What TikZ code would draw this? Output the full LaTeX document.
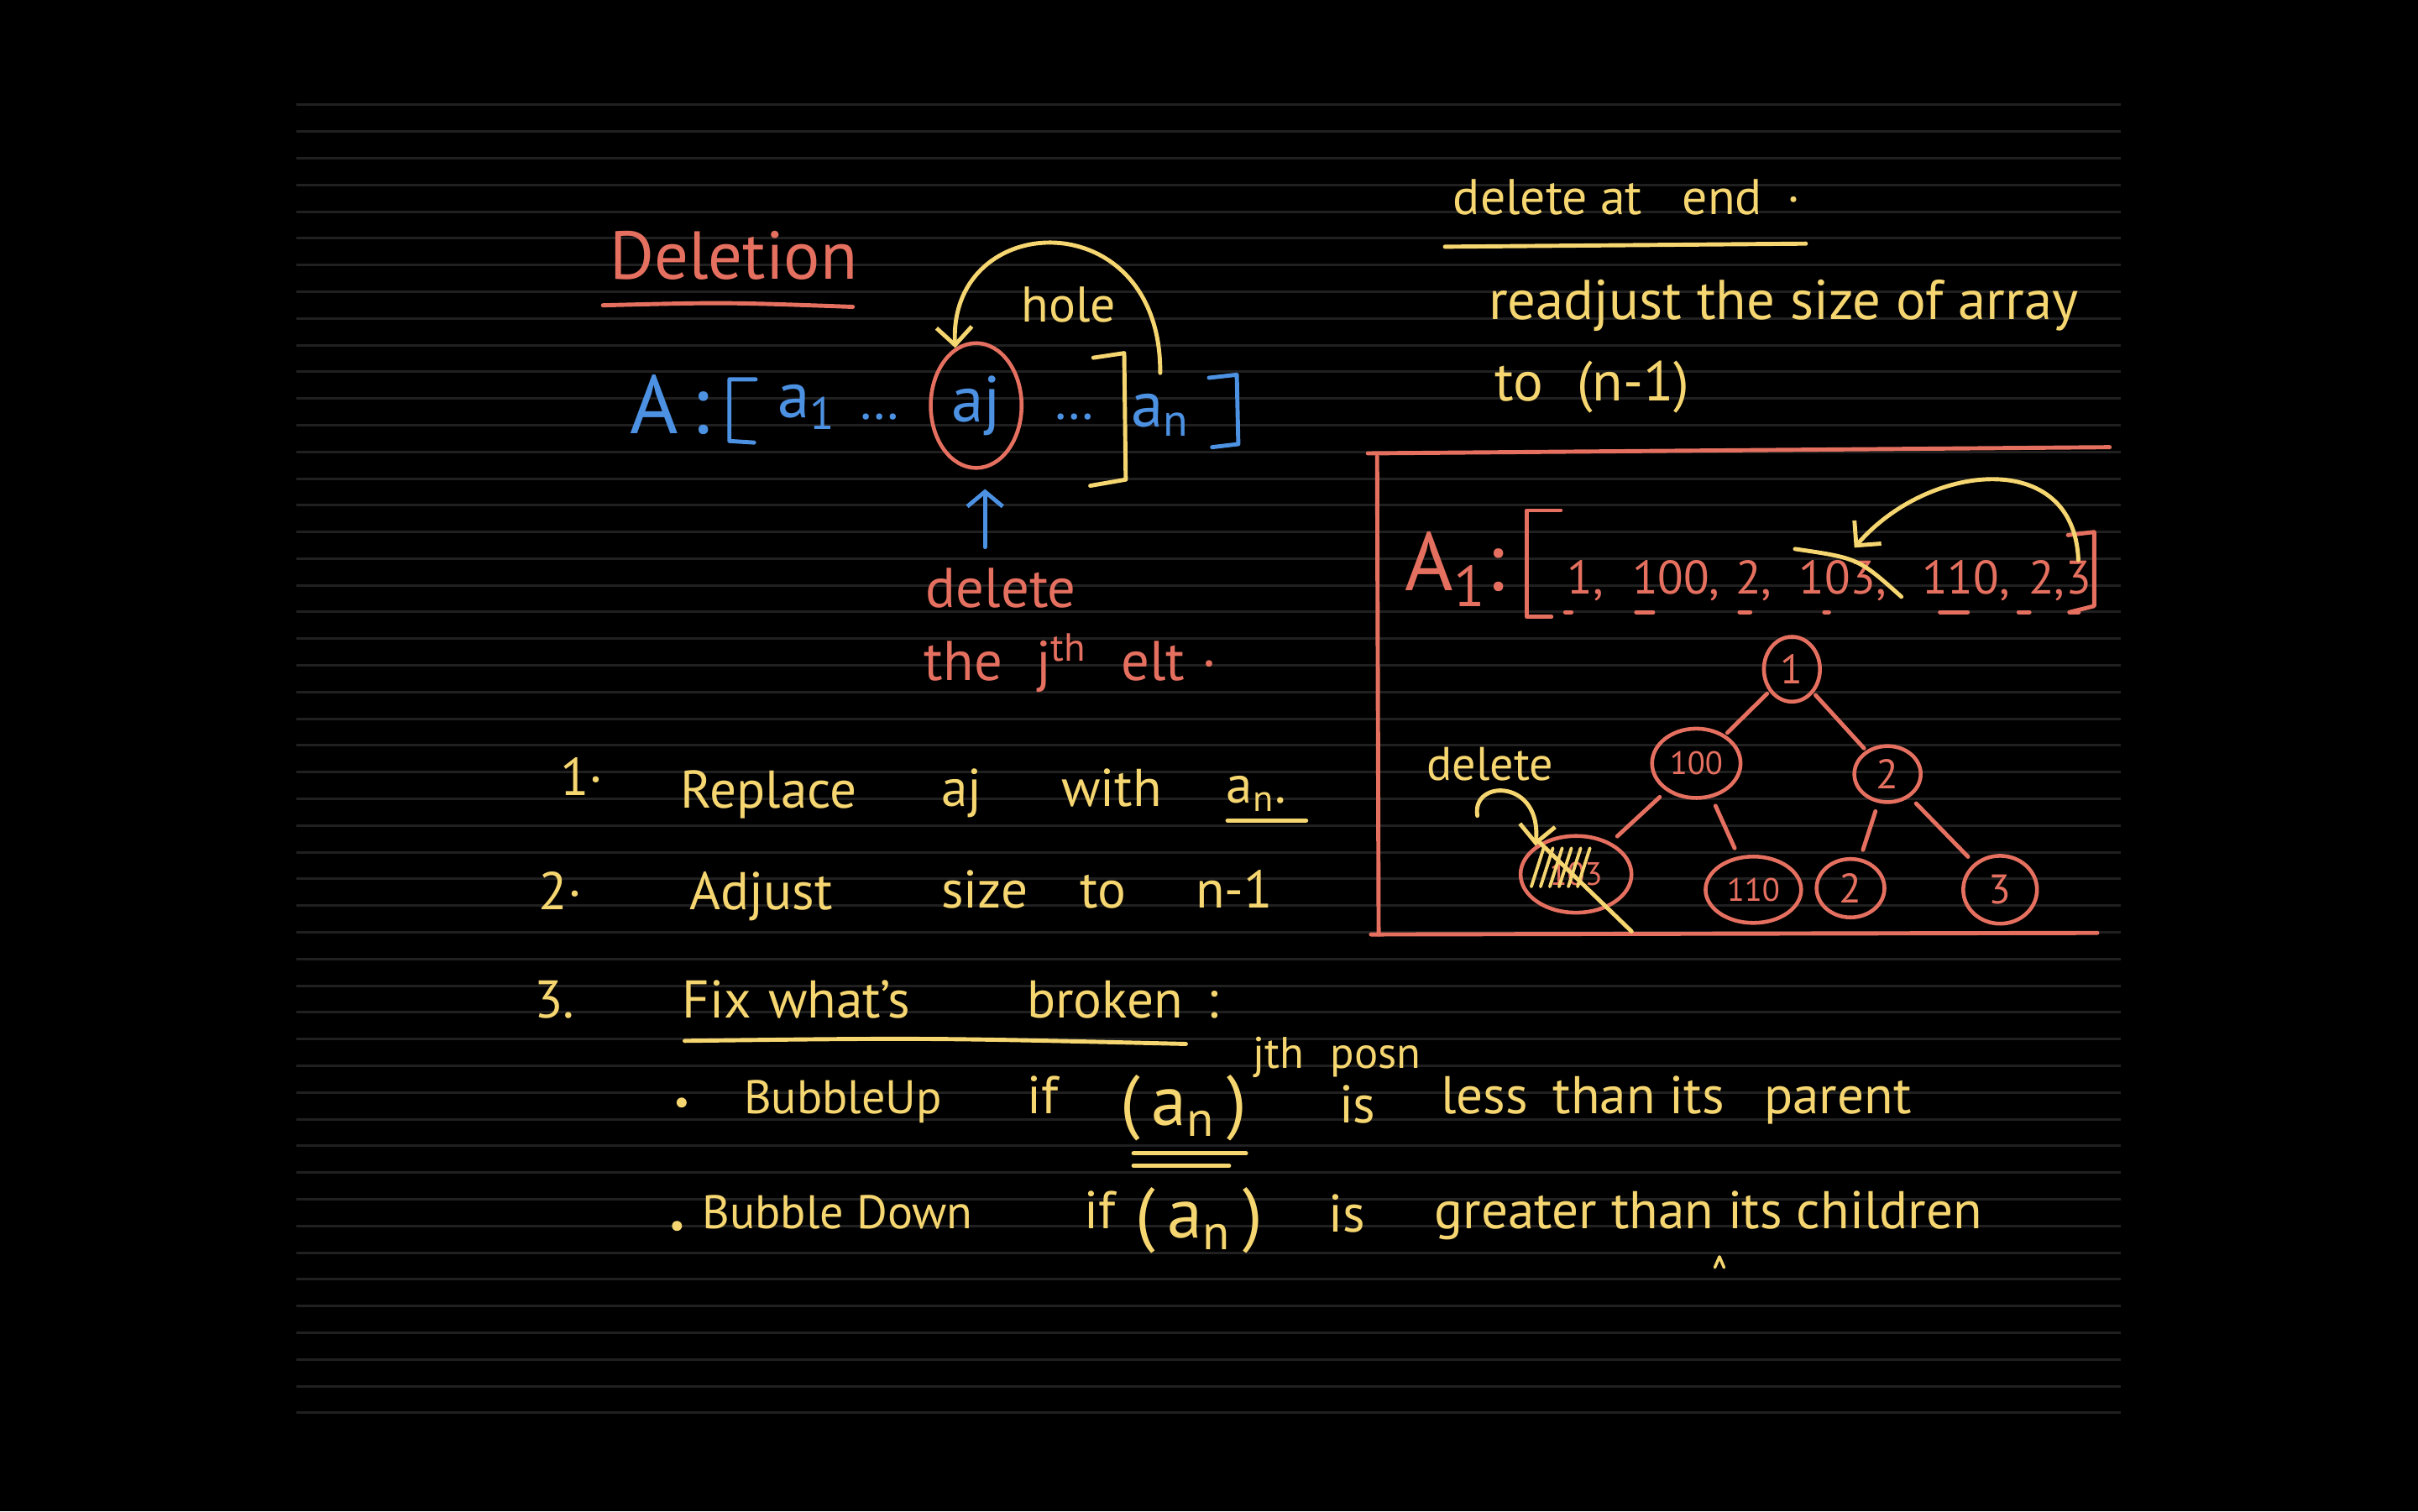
\documentclass[tikz,border=0pt]{standalone}
\usepackage{fontspec}
\setmainfont{PT Sans}
\usetikzlibrary{arrows.meta,shapes.geometric}
\definecolor{penyellow}{RGB}{246,214,112}
\definecolor{penred}{RGB}{229,112,96}
\definecolor{penblue}{RGB}{76,145,226}
\definecolor{ruleline}{RGB}{32,32,32}
\newcommand{\handsz}[1]{\fontsize{#1}{#1}\selectfont}
\tikzset{
  ruled/.style={draw=ruleline,line width=0.85pt},
  pen/.style={line width=1.4pt,line cap=round,line join=round},
  rpen/.style={pen,draw=penred},
  ypen/.style={pen,draw=penyellow},
  bpen/.style={pen,draw=penblue},
  yarr/.style={ypen,-{Straight Barb[length=6pt,width=12pt]}},
  barr/.style={bpen,-{Straight Barb[length=5pt,width=12pt]}},
  lbl/.style={inner sep=0pt,anchor=base west,font=\handsz{18}},
  rlbl/.style={lbl,text=penred},
  ylbl/.style={lbl,text=penyellow},
  blbl/.style={lbl,text=penblue},
  hnode/.style={ellipse,draw=penred,line width=1.3pt,inner sep=0pt,
                text=penred,font=\handsz{14}},
}
\begin{document}
\begin{tikzpicture}[x=0.018367cm,y=-0.018367cm]
        \fill[black] (0,0) rectangle (1568,980);
        \useasboundingbox (0,0) rectangle (1568,980);
        \foreach \k in {0,...,49}
          \draw[ruled] (192,{68+17.31*\k}) -- (1375,{68+17.31*\k});

        % deletion of a_j
        \node[rlbl,font=\handsz{23}] (title) at (395,181) {Deletion};
        \draw[rpen] (391,198) .. controls (470,196) .. (553,199);
        \node[blbl,font=\handsz{28}] (arrA) at (408,281) {A\,:};
        \draw[bpen] (490,246) -- (473,246) -- (473,286) -- (489,287);
        \node[blbl,font=\handsz{22}] (a1) at (504,271) {a\textsubscript{1}};
        \node[blbl] (dotsl) at (557,272) {\dots};
        \node[hnode,text=penblue,font=\handsz{22},minimum width=30.8pt,minimum height=42.3pt] (ajc) at (633,263) {aj};
        \node[blbl] (dotsr) at (683,272) {\dots};
        \draw[ypen] (709,232) -- (729,229) -- (730,311) -- (707,315);
        \node[blbl,font=\handsz{22}] (an) at (733,277) {a\textsubscript{n}};
        \draw[bpen] (784,245) -- (802,243) -- (803,288) -- (786,290);
        \node[ylbl,font=\handsz{17}] (hole) at (662,209) {hole};
        \draw[yarr] ([yshift=7pt]an.north) .. controls (753,130) and (615,135) .. (ajc.110);
        \node[rlbl,font=\handsz{19}] (del1) at (600,394) {delete};
        \node[rlbl,font=\handsz{19}] (del2) at (599,441) {the\hspace{.6em}j\textsuperscript{th}\hspace{.6em}elt\hspace{.3em}·};
        \draw[barr,shorten <=7pt,shorten >=6.5pt] ([xshift=3pt]del1.north -| ajc.south) -- ([xshift=3pt]ajc.south);

        % delete at end
        \node[ylbl,font=\handsz{17}] (endhd) at (942,139) {delete\hspace{.25em}at\hspace{.8em}end\hspace{.5em}·};
        \draw[ypen] (937,160) -- (1171,158);
        \node[ylbl,font=\handsz{19}] (readj) at (965,207) {readjust the size of array};
        \node[ylbl,font=\handsz{19}] (ton) at (969,260) {to\hspace{.6em}(n-1)};

        % example box
        \draw[rpen] (1368,290) -- (887,294);
        \draw[rpen] (893,296) -- (894,606);
        \draw[rpen] (889,606) -- (1360,605);
        \node[rlbl,font=\handsz{28}] (arrA1) at (911,383) {A\textsubscript{1}:};
        \draw[rpen] (1012,331) -- (990,331) -- (990,400) -- (1006,400);
        \foreach \v/\x [count=\i] in {1/1016,100/1058,2/1125,103/1166,110/1246,2/1315}
          \node[rlbl,font=\handsz{16}] (e\i) at (\x,385) {\v,};
        \node[rlbl,font=\handsz{16}] (e7) at (1339,385) {3};
        \draw[rpen] (1341,347) -- (1358,345) -- (1358,393) -- (1342,397);
        \foreach \a/\b in {1015/1019,1061/1072,1128/1135,1183/1186,1258/1276,1309/1316,1342/1348}
          \draw[rpen] (\a,397) -- (\b,397);
        \draw[ypen] (1164,356) .. controls (1205,362) .. (1233,387);
        \draw[yarr] (e7.north) .. controls (1345,290) and (1250,300) .. ([xshift=4pt,yshift=4pt]e4.north);

        \node[hnode,minimum width=19pt,minimum height=22pt] (t1) at (1162,434) {1};
        \node[hnode,font=\handsz{11},minimum width=30pt,minimum height=23.5pt] (t100) at (1100,495) {100};
        \node[hnode,minimum width=22.5pt,minimum height=19pt] (t2) at (1224,502) {2};
        \node[hnode,font=\handsz{11},minimum width=37.6pt,minimum height=26pt] (tx) at (1022,567) {103};
        \node[hnode,font=\handsz{11},minimum width=32.4pt,minimum height=22.5pt] (t110) at (1137,577) {110};
        \node[hnode,minimum width=23pt,minimum height=19.8pt] (t2b) at (1200,576) {2};
        \node[hnode,minimum width=25pt,minimum height=23pt] (t3) at (1297,577) {3};
        \foreach \a/\b in {t1/t100,t1/t2}
          \draw[rpen,shorten <=1pt,shorten >=1pt] (\a) -- (\b);
        \foreach \a/\b in {t100/tx,t100/t110,t2/t2b,t2/t3}
          \draw[rpen,shorten <=3pt,shorten >=3pt] (\a) -- (\b);
        \foreach \k in {0,...,5}
          \draw[ypen,line width=1.1pt] ({993+\k*6},575) -- ({1001+\k*6},550);
        \draw[ypen] (997,545) -- (1058,604);
        \node[ylbl,font=\handsz{16}] (tdel) at (925,506) {delete};
        \coordinate (hook) at (958,529);
        \draw[yarr] (hook) .. controls (954,505) and (1000,505) .. (tx.north west);

        % steps
        \node[ylbl] (n1) at (363,516) {1·};
        \node[ylbl] (rep) at (441,524) {Replace};
        \node[ylbl] (aj2) at (610,523) {aj};
        \node[ylbl] (with) at (688,523) {with};
        \node[ylbl] (an2) at (795,521) {a\textsubscript{n}.};
        \draw[ypen] (796,532) -- (847,532);
        \node[ylbl] (n2) at (349,590) {2·};
        \node[ylbl] (adj) at (447,590) {Adjust};
        \node[ylbl] (sz) at (610,589) {size};
        \node[ylbl] (to) at (700,589) {to};
        \node[ylbl] (nm) at (775,589) {n-1};
        \node[ylbl] (n3) at (346,660) {3.};
        \node[ylbl] (fix) at (442,660) {Fix\hspace{.32em}what's\hspace{2.2em}broken\hspace{.45em}:};
        \draw[ypen] (444,675) .. controls (600,673) .. (769,677);
        \node[ylbl,font=\handsz{15}] (posn) at (812,693) {jth\hspace{.6em}posn};
        \fill[penyellow] (442,715) circle (1.7pt);
        \node[ylbl,font=\handsz{16}] (bup) at (482,722) {BubbleUp};
        \node[ylbl] (if1) at (666,722) {if};
        \node[ylbl,font=\handsz{24}] (pan1) at (726,730) {(\,a\textsubscript{n}\,)};
        \draw[ypen] (735,748) -- (808,748);
        \draw[ypen] (735,756) -- (797,756);
        \node[ylbl] (is1) at (868,728) {is};
        \node[ylbl] (less) at (934,722) {less\hspace{.47em}than\hspace{.27em}its\hspace{.75em}parent};
        \fill[penyellow] (439,795) circle (1.7pt);
        \node[ylbl,font=\handsz{16}] (bdown) at (455,797) {Bubble Down};
        \node[ylbl] (if2) at (703,797) {if};
        \node[ylbl,font=\handsz{24}] (pan2) at (736,803) {(\,a\textsubscript{n}\,)};
        \node[ylbl] (is2) at (861,799) {is};
        \node[ylbl] (great) at (930,797) {greater than its children};
        \draw[ypen,line width=1pt] (1112,822) -- (1115,815) -- (1118,822);
      \end{tikzpicture}
\end{document}
